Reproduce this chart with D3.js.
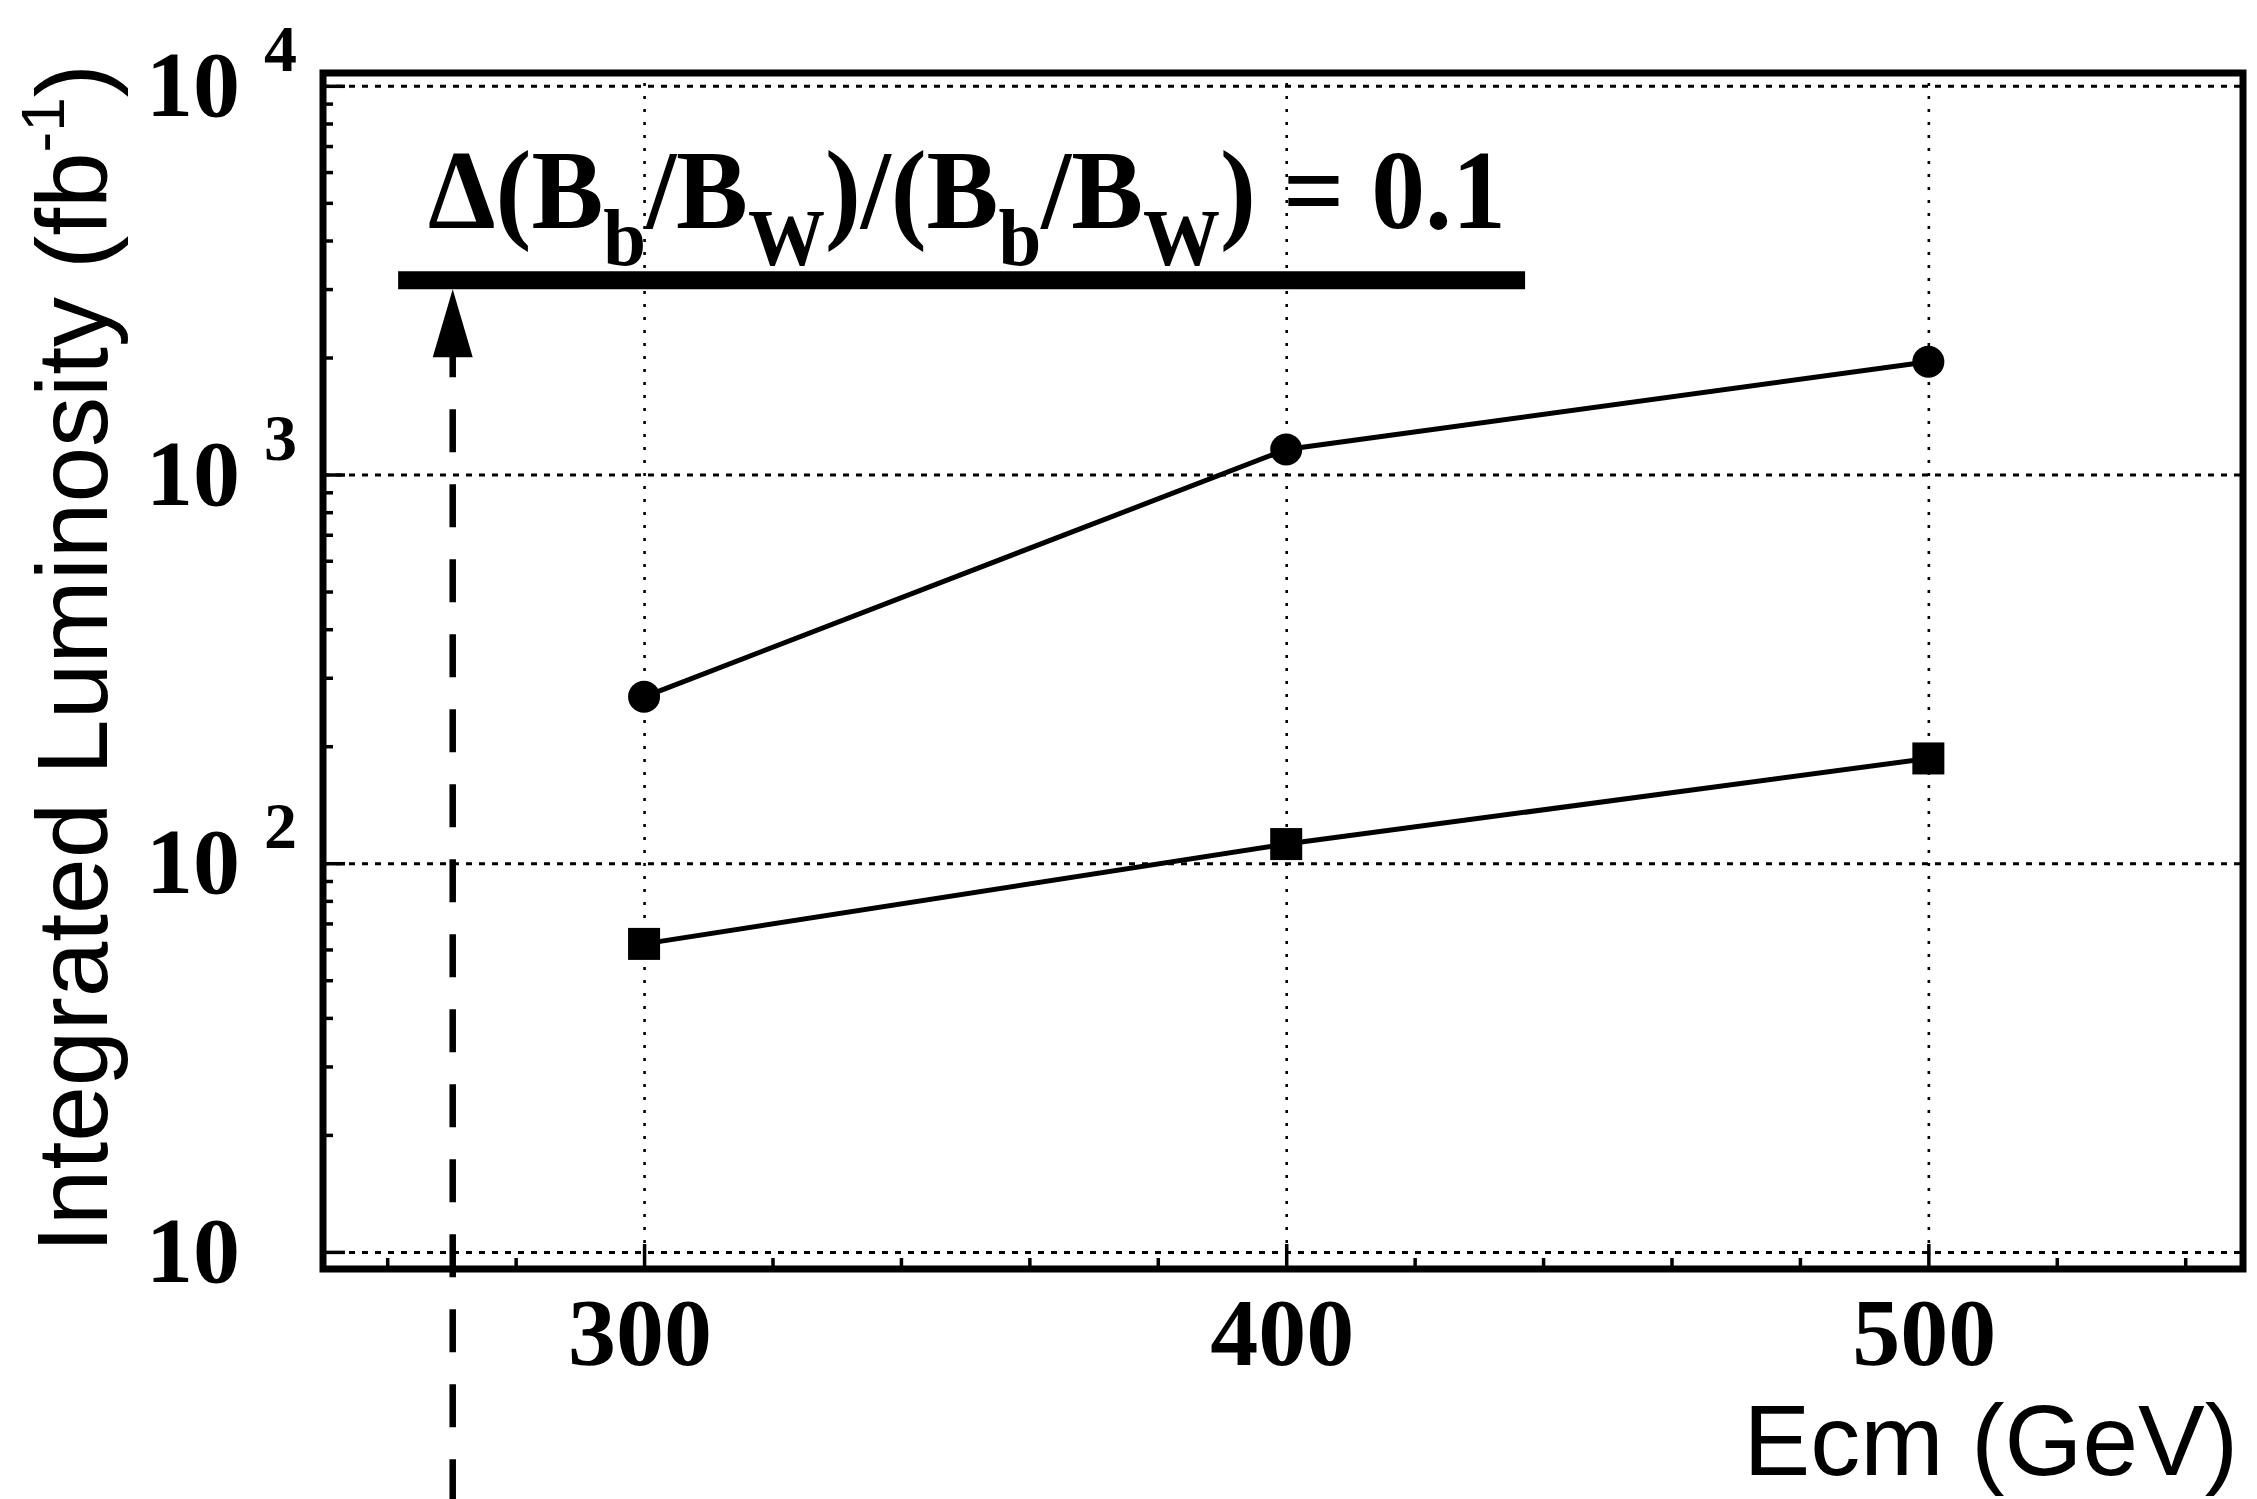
<!DOCTYPE html>
<html><head><meta charset="utf-8">
<script src="https://cdn.jsdelivr.net/npm/d3@7"></script>
<style>body{margin:0;background:#fff;overflow:hidden}</style>
</head><body>
<svg id="c" width="2257" height="1499"></svg>
<script>
// ---- data ----
const energies = [300, 400, 500];
const circleLumi = [268, 1160, 1950];
const squareLumi = [62, 112, 186];
const xTickLabels = [300, 400, 500];
const xMinorTicks = [260, 280, 320, 340, 360, 380, 420, 440, 460, 480, 520, 540];
const yTickExps = [1, 2, 3, 4];
const thresholdLumi = 3160;
const thresholdRange = [261.7, 437.2];
const arrowEcm = 270.2;
const titleParts = [
  {t: "\u0394(B"}, {t: "b", sub: true}, {t: "/B"}, {t: "W", sub: true},
  {t: ")/(B"}, {t: "b", sub: true}, {t: "/B"}, {t: "W", sub: true}, {t: ") = 0.1"}
];

// ---- layout ----
const m = {left: 323, right: 2243, top: 73, bottom: 1269};
const svg = d3.select("#c");
const x = d3.scaleLinear().domain([250, 549]).range([m.left, m.right]);
const y = d3.scaleLog().domain([Math.pow(10, 0.956), Math.pow(10, 4.033)]).range([m.bottom, m.top]);
const serif = "'Liberation Serif','Times New Roman',serif";
const sans = "'Liberation Sans',Arial,Helvetica,sans-serif";

// grid lines
const yMajors = yTickExps.map(e => Math.pow(10, e));
svg.append("g").attr("transform", `translate(${m.left},0)`)
  .call(d3.axisRight(y).tickValues(yMajors).tickSize(m.right - m.left).tickFormat(""))
  .call(g => g.select(".domain").remove())
  .selectAll("line").attr("stroke", "#000").attr("stroke-width", 3).attr("stroke-dasharray", "6,7");
svg.append("g").attr("transform", `translate(0,${m.bottom})`)
  .call(d3.axisTop(x).tickValues(xTickLabels).tickSize(m.bottom - m.top).tickFormat(""))
  .call(g => g.select(".domain").remove())
  .selectAll("line").attr("stroke", "#000").attr("stroke-width", 2.6).attr("stroke-dasharray", "3,10");

// y ticks (inward)
const yMinors = y.ticks(40).filter(v => !yMajors.some(M => Math.abs(M - v) < 1e-9));
[[yMinors, 10], [yMajors, 22]].forEach(([vals, size]) => {
  svg.append("g").attr("transform", `translate(${m.left},0)`)
    .call(d3.axisRight(y).tickValues(vals).tickSize(size).tickFormat(""))
    .call(g => g.select(".domain").remove())
    .selectAll("line").attr("stroke", "#000").attr("stroke-width", 3.5);
});
// x ticks (inward)
[[xMinorTicks, 11], [xTickLabels, 25]].forEach(([vals, size]) => {
  svg.append("g").attr("transform", `translate(0,${m.bottom})`)
    .call(d3.axisTop(x).tickValues(vals).tickSize(size).tickFormat(""))
    .call(g => g.select(".domain").remove())
    .selectAll("line").attr("stroke", "#000").attr("stroke-width", 3.5);
});

// frame
svg.append("rect").attr("x", m.left).attr("y", m.top)
  .attr("width", m.right - m.left).attr("height", m.bottom - m.top)
  .attr("fill", "none").attr("stroke", "#000").attr("stroke-width", 7);

// y tick labels
yTickExps.forEach(e => {
  const yy = y(Math.pow(10, e));
  svg.append("text").attr("x", 240).attr("y", yy + 30)
    .attr("text-anchor", "end").attr("font-family", serif).attr("font-weight", "bold")
    .attr("font-size", 94).text("10");
  if (e > 1) {
    svg.append("text").attr("x", 264).attr("y", yy - 15)
      .attr("font-family", serif).attr("font-weight", "bold")
      .attr("font-size", 66).text(String(e));
  }
});
// x tick labels
xTickLabels.forEach(v => {
  svg.append("text").attr("x", x(v) - 4).attr("y", 1365)
    .attr("text-anchor", "middle").attr("font-family", serif).attr("font-weight", "bold")
    .attr("font-size", 96).text(v);
});

// axis titles
const yl = svg.append("text").attr("transform", "translate(107,1253) rotate(-90)")
  .attr("font-family", sans).attr("font-size", 100);
yl.append("tspan").text("Integrated Luminosity (fb");
yl.append("tspan").attr("font-size", 62).attr("dy", -43).text("-1");
yl.append("tspan").attr("dy", 43).text(")");

svg.append("text").attr("x", 2238).attr("y", 1475).attr("text-anchor", "end")
  .attr("font-family", sans).attr("font-size", 100).text("Ecm (GeV)");

// data lines
const line = d3.line().x(d => x(d[0])).y(d => y(d[1]));
const circ = energies.map((e, i) => [e, circleLumi[i]]);
const sq = energies.map((e, i) => [e, squareLumi[i]]);
[circ, sq].forEach(s => svg.append("path").attr("d", line(s))
  .attr("fill", "none").attr("stroke", "#000").attr("stroke-width", 5));
svg.selectAll(".pt").data(circ).enter().append("circle")
  .attr("cx", d => x(d[0])).attr("cy", d => y(d[1])).attr("r", 16).attr("fill", "#000");
svg.selectAll(".sq").data(sq).enter().append("rect")
  .attr("x", d => x(d[0]) - 16).attr("y", d => y(d[1]) - 16)
  .attr("width", 32).attr("height", 32).attr("fill", "#000");

// threshold bar
const ty = y(thresholdLumi);
svg.append("line").attr("x1", x(thresholdRange[0])).attr("x2", x(thresholdRange[1]))
  .attr("y1", ty).attr("y2", ty).attr("stroke", "#000").attr("stroke-width", 18);

// arrow
const ax = x(arrowEcm), tip = ty + 9;
svg.append("line").attr("x1", ax).attr("x2", ax).attr("y1", tip + 45).attr("y2", 1499)
  .attr("stroke", "#000").attr("stroke-width", 6.5).attr("stroke-dasharray", "43,32");
svg.append("path").attr("d", `M${ax},${tip} L${ax - 20},${tip + 68} L${ax + 20},${tip + 68} Z`)
  .attr("fill", "#000");

// title
const tt = svg.append("text").attr("x", 0).attr("y", 0)
  .attr("font-family", serif).attr("font-weight", "bold").attr("font-size", 112);
let down = false;
titleParts.forEach(p => {
  const ts = tt.append("tspan").text(p.t);
  if (p.sub) { ts.attr("font-size", 80).attr("dy", 37); down = true; }
  else if (down) { ts.attr("dy", -37); down = false; }
});
const bb = tt.node().getBBox();
const target = [428, 1506];
const sx = (target[1] - target[0]) / bb.width;
tt.attr("transform", `translate(${target[0] - bb.x * sx},228) scale(${sx},1)`);
</script>
</body></html>
